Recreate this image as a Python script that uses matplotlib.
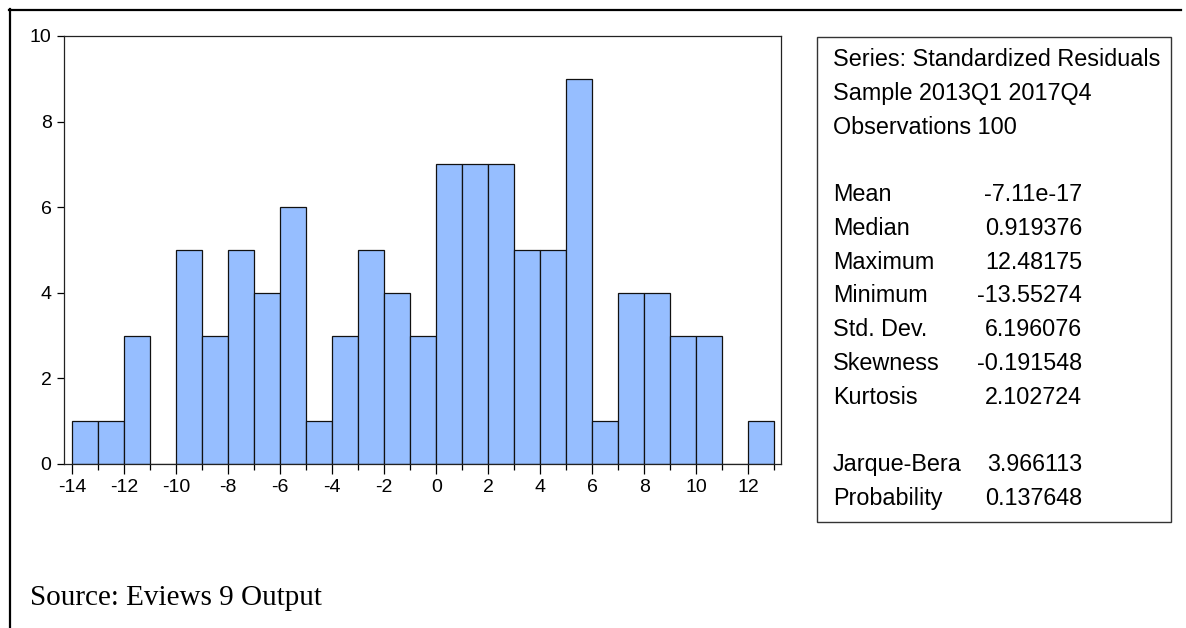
import numpy as np
import matplotlib
matplotlib.use("Agg")
import matplotlib.pyplot as plt
from matplotlib.lines import Line2D
from matplotlib.patches import Rectangle
from matplotlib.ticker import MultipleLocator

# histogram bins (left edges, width 1) and counts
bin_left = list(range(-14, 13))
counts = [1, 1, 3, 0, 5, 3, 5, 4, 6, 1, 3, 5, 4, 3,
          7, 7, 7, 5, 5, 9, 1, 4, 4, 3, 3, 0, 1]

header_lines = ["Series: Standardized Residuals",
                "Sample 2013Q1 2017Q4",
                "Observations 100"]
stat_names = ["Mean", "Median", "Maximum", "Minimum", "Std. Dev.",
              "Skewness", "Kurtosis", "", "Jarque-Bera", "Probability"]
stat_values = ["-7.11e-17", "0.919376", "12.48175", "-13.55274", "6.196076",
               "-0.191548", "2.102724", "", "3.966113", "0.137648"]

W, H = 1186, 628
plt.rcParams['font.family'] = ['Liberation Sans', 'DejaVu Sans']
plt.rcParams['axes.unicode_minus'] = False

fig = plt.figure(figsize=(W / 100, H / 100), dpi=100)

def fx(px):
    return px / W

def fy(py):
    return 1 - py / H

# histogram axes
ax = fig.add_axes([fx(64), fy(464), fx(781) - fx(64), fy(36) - fy(464)])
ax.bar(bin_left, counts, width=1, align='edge', color='#96BEFF',
       edgecolor='#111111', linewidth=0.9)
ax.set_xlim(-14.32, 13.26)
ax.set_ylim(0, 10)
ax.xaxis.set_major_locator(MultipleLocator(2))
ax.xaxis.set_minor_locator(MultipleLocator(1))
ax.yaxis.set_major_locator(MultipleLocator(2))
ax.set_xticks(range(-14, 13, 2))
ax.tick_params(axis='x', which='major', length=7, width=0.9, pad=4, labelsize=14)
ax.tick_params(axis='x', which='minor', length=4.5, width=0.9)
ax.tick_params(axis='y', which='major', length=5, width=0.9, pad=4, labelsize=14)
for sp in ax.spines.values():
    sp.set_linewidth(0.9)
    sp.set_color('#222222')

# statistics box
fig.patches.append(Rectangle((fx(817), fy(522)), fx(1171) - fx(817), fy(37) - fy(522),
                             transform=fig.transFigure, fill=False,
                             edgecolor='#333333', linewidth=1.0))
line_gap = 33.77
base = 66
for i, txt in enumerate(header_lines):
    fig.text(fx(833), fy(base + i * line_gap), txt, fontsize=16.8, va='baseline')
for i, (name, val) in enumerate(zip(stat_names, stat_values)):
    y = fy(base + (i + 4) * line_gap)
    fig.text(fx(833), y, name, fontsize=16.8, va='baseline')
    fig.text(fx(1082), y, val, fontsize=16.8, va='baseline', ha='right')

# outer frame (top and left only)
fig.add_artist(Line2D([fx(9), fx(1181)], [fy(10), fy(10)], transform=fig.transFigure,
                      color='black', linewidth=1.6))
fig.add_artist(Line2D([fx(10), fx(10)], [fy(9), 0], transform=fig.transFigure,
                      color='black', linewidth=1.6))

fig.text(fx(30), fy(605), "Source: Eviews 9 Output", fontsize=21,
         family=['Liberation Serif', 'DejaVu Serif'], va='baseline')

fig.savefig("out.png", dpi=100)
